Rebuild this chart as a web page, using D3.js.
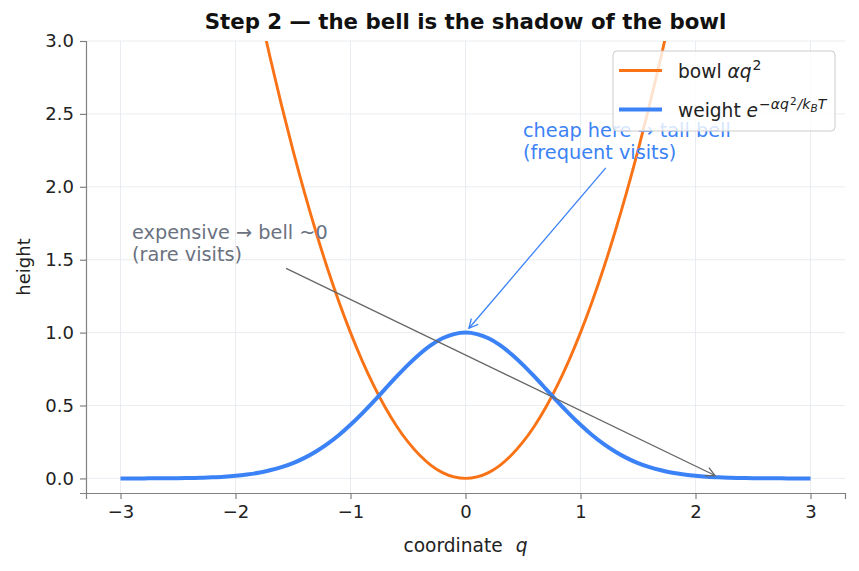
<!DOCTYPE html>
<html>
<head>
<meta charset="utf-8">
<script src="https://cdn.jsdelivr.net/npm/d3@7"></script>
<style>
  html, body { margin: 0; padding: 0; background: #fff; }
  svg { display: block; font-family: "DejaVu Sans", sans-serif; }
</style>
</head>
<body>
<div id="chart"></div>
<script>
// coordinate samples, step 0.1
const qVals = [
  -3.0, -2.9, -2.8, -2.7, -2.6, -2.5, -2.4, -2.3, -2.2, -2.1,
  -2.0, -1.9, -1.8, -1.7, -1.6, -1.5, -1.4, -1.3, -1.2, -1.1,
  -1.0, -0.9, -0.8, -0.7, -0.6, -0.5, -0.4, -0.3, -0.2, -0.1,
  0.0,
  0.1, 0.2, 0.3, 0.4, 0.5, 0.6, 0.7, 0.8, 0.9, 1.0,
  1.1, 1.2, 1.3, 1.4, 1.5, 1.6, 1.7, 1.8, 1.9, 2.0,
  2.1, 2.2, 2.3, 2.4, 2.5, 2.6, 2.7, 2.8, 2.9, 3.0
];
const bowlVals = [
  9.00, 8.41, 7.84, 7.29, 6.76, 6.25, 5.76, 5.29, 4.84, 4.41,
  4.00, 3.61, 3.24, 2.89, 2.56, 2.25, 1.96, 1.69, 1.44, 1.21,
  1.00, 0.81, 0.64, 0.49, 0.36, 0.25, 0.16, 0.09, 0.04, 0.01,
  0.00,
  0.01, 0.04, 0.09, 0.16, 0.25, 0.36, 0.49, 0.64, 0.81, 1.00,
  1.21, 1.44, 1.69, 1.96, 2.25, 2.56, 2.89, 3.24, 3.61, 4.00,
  4.41, 4.84, 5.29, 5.76, 6.25, 6.76, 7.29, 7.84, 8.41, 9.00
];
const bellVals = [
  0.000, 0.000, 0.000, 0.001, 0.001, 0.002, 0.003, 0.005, 0.008, 0.012,
  0.018, 0.027, 0.039, 0.056, 0.077, 0.105, 0.141, 0.185, 0.237, 0.298,
  0.368, 0.445, 0.527, 0.613, 0.698, 0.779, 0.852, 0.914, 0.961, 0.990,
  1.000,
  0.990, 0.961, 0.914, 0.852, 0.779, 0.698, 0.613, 0.527, 0.445, 0.368,
  0.298, 0.237, 0.185, 0.141, 0.105, 0.077, 0.056, 0.039, 0.027, 0.018,
  0.012, 0.008, 0.005, 0.003, 0.002, 0.001, 0.001, 0.000, 0.000, 0.000
];
const xTicks = [-3, -2, -1, 0, 1, 2, 3];
const yTicks = [0, 0.5, 1, 1.5, 2, 2.5, 3];

// annotation arrows [from, to] in data coords
const cheapArrow = [[1.22, 2.13], [0.03, 1.03]];
const rareArrow = [[-1.56, 1.44], [2.17, 0.02]];

const W = 859, H = 571;
const m = { top: 41, right: 14, bottom: 78, left: 86 };
const ORANGE = '#f97316', BLUE = '#3b82f6', GRAY = '#6b7280';

const svg = d3.select('#chart').append('svg')
  .attr('width', W).attr('height', H);

const x = d3.scaleLinear().domain([-3.3, 3.3]).range([m.left, W - m.right]);
const y = d3.scaleLinear().domain([-0.1, 3.0]).range([H - m.bottom, m.top]);

const defs = svg.append('defs');
defs.append('clipPath').attr('id', 'plot-clip')
  .append('rect')
  .attr('x', m.left).attr('y', m.top)
  .attr('width', W - m.left - m.right).attr('height', H - m.top - m.bottom);

// grid
const grid = svg.append('g').attr('stroke', '#e3e7ec').attr('stroke-width', 0.8);
grid.selectAll('line.vx').data(xTicks).join('line')
  .attr('x1', d => x(d)).attr('x2', d => x(d))
  .attr('y1', m.top).attr('y2', H - m.bottom);
grid.selectAll('line.hy').data(yTicks).join('line')
  .attr('y1', d => y(d)).attr('y2', d => y(d))
  .attr('x1', m.left).attr('x2', W - m.right);

// axes
const styleAxis = g => {
  g.select('.domain').attr('stroke', '#808080').attr('stroke-width', 1.2);
  g.selectAll('.tick line').attr('stroke', '#808080').attr('stroke-width', 1.2);
  g.selectAll('.tick text').attr('fill', '#222').attr('font-size', '18px')
    .attr('font-family', '"DejaVu Sans", sans-serif');
};

svg.append('g')
  .attr('transform', `translate(0,${H - m.bottom})`)
  .call(d3.axisBottom(x).tickValues(xTicks).tickSize(6).tickPadding(6)
    .tickFormat(d => d < 0 ? '\u2212' + Math.abs(d) : d))
  .call(styleAxis);

svg.append('g')
  .attr('transform', `translate(${m.left},0)`)
  .call(d3.axisLeft(y).tickValues(yTicks).tickSize(6).tickPadding(6)
    .tickFormat(d3.format('.1f')))
  .call(styleAxis);

// curves
const line = d3.line()
  .x((d, i) => x(qVals[i]))
  .y(d => y(d))
  .curve(d3.curveCatmullRom);

const plot = svg.append('g').attr('clip-path', 'url(#plot-clip)');
plot.append('path').datum(bowlVals)
  .attr('d', line).attr('fill', 'none')
  .attr('stroke', ORANGE).attr('stroke-width', 2.9);
plot.append('path').datum(bellVals)
  .attr('d', line).attr('fill', 'none')
  .attr('stroke', BLUE).attr('stroke-width', 4);

// annotations
function arrowHead(id, color) {
  defs.append('marker').attr('id', id)
    .attr('viewBox', '-10 -6 12 12')
    .attr('refX', 0).attr('refY', 0)
    .attr('markerWidth', 12).attr('markerHeight', 12)
    .attr('markerUnits', 'userSpaceOnUse')
    .attr('orient', 'auto')
    .append('path').attr('d', 'M-9,-4.5L0,0L-9,4.5')
    .attr('fill', 'none').attr('stroke', color).attr('stroke-width', 1.3);
}
arrowHead('ah-blue', BLUE);
arrowHead('ah-gray', '#666');

function annotate(pts, color, marker, lines, tx, ty) {
  svg.append('line')
    .attr('x1', x(pts[0][0])).attr('y1', y(pts[0][1]))
    .attr('x2', x(pts[1][0])).attr('y2', y(pts[1][1]))
    .attr('stroke', color).attr('stroke-width', 1.3)
    .attr('marker-end', `url(#${marker})`);
  const t = svg.append('text')
    .attr('x', x(tx)).attr('y', ty)
    .attr('fill', color === '#666' ? GRAY : color)
    .attr('font-size', '19.3px');
  lines.forEach((s, i) => {
    t.append('tspan').attr('x', x(tx)).attr('dy', i === 0 ? 0 : 21.5).text(s);
  });
}

annotate(rareArrow, '#666', 'ah-gray',
  ['expensive \u2192 bell ~0', '(rare visits)'], -2.9, 239);
annotate(cheapArrow, BLUE, 'ah-blue',
  ['cheap here \u2192 tall bell', '(frequent visits)'], 0.5, 137);

// legend
const lg = svg.append('g').attr('transform', 'translate(613,51)');
lg.append('rect')
  .attr('width', 222).attr('height', 80).attr('rx', 4)
  .attr('fill', '#fff').attr('fill-opacity', 0.8)
  .attr('stroke', '#cccccc').attr('stroke-width', 1);
lg.append('line').attr('x1', 6).attr('x2', 49).attr('y1', 19.5).attr('y2', 19.5)
  .attr('stroke', ORANGE).attr('stroke-width', 2.9);
lg.append('line').attr('x1', 6).attr('x2', 49).attr('y1', 58.5).attr('y2', 58.5)
  .attr('stroke', BLUE).attr('stroke-width', 4);

const l1 = lg.append('text').attr('x', 65).attr('y', 27)
  .attr('font-size', '18.6px').attr('fill', '#222');
l1.append('tspan').text('bowl ');
l1.append('tspan').attr('font-style', 'italic').text('\u03b1q');
l1.append('tspan').attr('font-size', '14px').attr('dx', 1).attr('dy', -8).text('2');

const l2 = lg.append('text').attr('x', 65).attr('y', 66)
  .attr('font-size', '18.6px').attr('fill', '#222');
l2.append('tspan').text('weight ');
l2.append('tspan').attr('font-style', 'italic').text('e');
l2.append('tspan').attr('font-size', '14px').attr('dx', 1).attr('dy', -8).text('\u2212');
l2.append('tspan').attr('font-size', '14px').attr('font-style', 'italic').text('\u03b1q');
l2.append('tspan').attr('font-size', '10.5px').attr('dx', 1).attr('dy', -4).text('2');
l2.append('tspan').attr('font-size', '14px').attr('font-style', 'italic').attr('dx', 1).attr('dy', 4).text('/k');
l2.append('tspan').attr('font-size', '10.5px').attr('font-style', 'italic').attr('dy', 3).text('B');
l2.append('tspan').attr('font-size', '14px').attr('font-style', 'italic').attr('dy', -3).text('T');

// title and axis labels
svg.append('text')
  .attr('x', (m.left + W - m.right) / 2).attr('y', 29)
  .attr('text-anchor', 'middle')
  .attr('font-size', '21.3px').attr('font-weight', 'bold').attr('fill', '#111')
  .text('Step 2 \u2014 the bell is the shadow of the bowl');

const xl = svg.append('text')
  .attr('x', (m.left + W - m.right) / 2).attr('y', 552)
  .attr('text-anchor', 'middle')
  .attr('font-size', '18.6px').attr('fill', '#222');
xl.append('tspan').text('coordinate\u2002\u2009');
xl.append('tspan').attr('font-style', 'italic').text('q');

svg.append('text')
  .attr('transform', `translate(30,${(m.top + H - m.bottom) / 2}) rotate(-90)`)
  .attr('text-anchor', 'middle')
  .attr('font-size', '18px').attr('fill', '#222')
  .text('height');
</script>
</body>
</html>
